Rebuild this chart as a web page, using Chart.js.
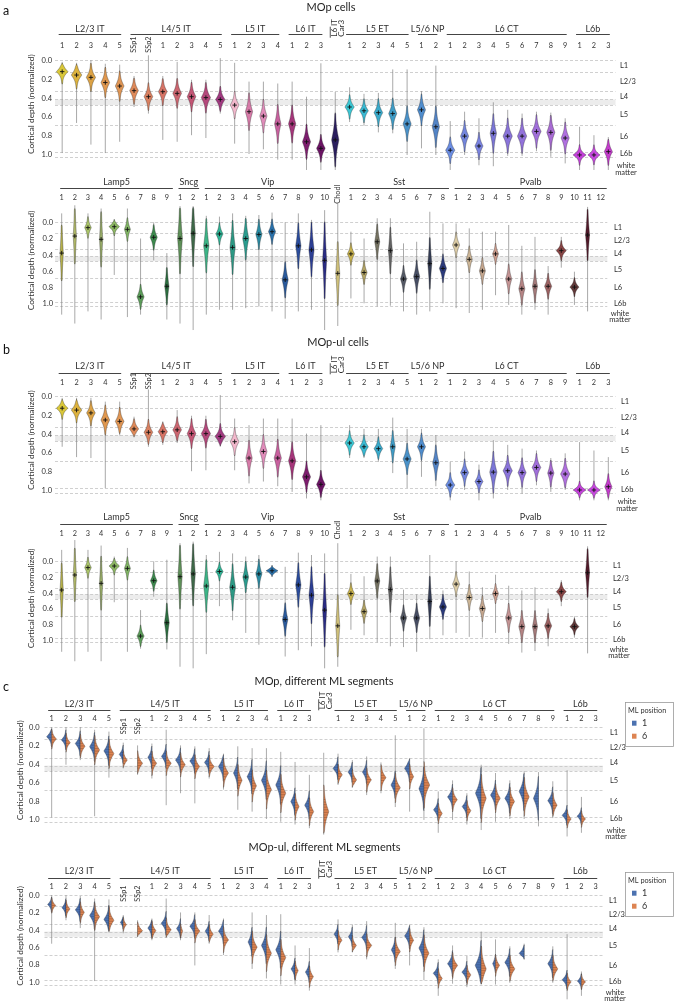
<!DOCTYPE html>
<html><head><meta charset="utf-8">
<script src="https://cdn.jsdelivr.net/npm/chart.js@4/dist/chart.umd.min.js"></script>
<style>
html,body{margin:0;padding:0;background:#fff;}
#wrap{position:relative;width:674px;height:1008px;overflow:hidden;background:#fff;}
#wrap canvas{position:absolute;left:0;top:0;}
</style>
</head><body><div id="wrap"></div>
<script>
// ---------------- categories ----------------
const excGroups = ['L2/3 IT','L4/5 IT','L5 IT','L6 IT','L6 IT\nCar3','L5 ET','L5/6 NP','L6 CT','L6b'];
const excGroupSizes = [5,7,4,3,1,5,2,9,3];
const excTicks = ['1','2','3','4','5','SSp1','SSp2','1','2','3','4','5','1','2','3','4','1','2','3','','1','2','3','4','5','1','2','1','2','3','4','5','6','7','8','9','1','2','3'];
const inhGroups = ['Lamp5','Sncg','Vip','','Sst','Pvalb'];
const inhGroupSizes = [9,2,10,1,8,12];
const inhTicks = ['1','2','3','4','5','6','7','8','9','1','2','1','2','3','4','5','6','7','8','9','10','Chodl','1','2','3','4','5','6','7','8','1','2','3','4','5','6','7','8','9','10','11','12'];

// ---------------- axis / layers ----------------
const yTickValues = [0,0.2,0.4,0.6,0.8,1.0];
const layerEdges = [0,0.13,0.335,0.42,0.48,0.69,0.98,1.03];
const l4Band = [0.42,0.48];
const layerNames = ['L1','L2/3','L4','L5','L6','L6b'];
const layerLabelPos = [0.06,0.225,0.39,0.585,0.81,1.0];
const mlPositions = ['1','6'];

// ---------------- panel a : MOp cells, excitatory ----------------
const aExcMed = [.124,.16,.185,.24,.277,.326,.39,.337,.355,.39,.40,.42,.48,.55,.596,.68,.68,.87,.94,.85,.50,.54,.56,.57,.68,.53,.71,.96,.81,.915,.78,.81,.81,.76,.77,.83,1.01,1.01,.975];
const aExcLo  = [.02,.03,0,.04,.05,.17,-.05,.17,.02,.21,.21,-.02,.03,.23,.23,.25,.23,.39,.035,.34,.29,.36,.35,.10,.10,.33,.06,.65,.55,.62,.45,.53,.57,.55,.56,.62,.71,.80,.82];
const aExcHi  = [.99,.67,.90,.99,.87,.50,.57,.85,.87,.80,.83,.57,.89,1.0,.95,1.06,1.06,1.17,1.17,1.17,.66,.70,.77,.78,1.01,.94,1.01,1.17,1.01,1.12,1.13,1.02,1.02,.97,1.03,1.10,1.17,1.17,1.17];
const aExcSpread = [.045,.055,.06,.065,.065,.06,.06,.06,.065,.065,.065,.055,.06,.09,.08,.1,.09,.08,.06,.13,.05,.05,.06,.07,.08,.07,.1,.055,.07,.06,.1,.075,.075,.07,.08,.07,.035,.035,.06];
const aExcWidth  = [.40,.36,.32,.30,.30,.30,.30,.30,.30,.30,.32,.32,.30,.25,.25,.22,.25,.28,.30,.25,.32,.30,.30,.28,.28,.28,.25,.32,.28,.28,.22,.32,.32,.32,.28,.28,.45,.42,.28];

// ---------------- panel a : MOp cells, inhibitory ----------------
const aInhMed = [.38,.17,.066,.21,.054,.087,.92,.185,.79,.20,.136,.29,.144,.31,.20,.15,.116,.71,.29,.34,.47,.63,.39,.62,.24,.35,.70,.67,.51,.57,.28,.457,.60,.39,.70,.82,.79,.79,.35,.80,.157,null];
const aInhLo  = [-.11,-.21,-.11,-.17,-.04,-.17,.20,0,.38,-.20,-.20,-.08,-.07,-.11,-.08,-.09,-.12,0,-.11,-.03,-.15,-.23,.116,.20,-.05,-.05,.26,.24,-.13,.014,.014,.075,.116,.116,.033,.29,.18,.54,.18,.61,-.19,null];
const aInhHi  = [1.14,1.25,1.10,1.20,.65,1.17,1.14,.47,1.20,1.25,1.33,1.14,1.08,1.08,1.06,1.04,1.10,1.19,1.10,1.08,1.33,1.28,.94,1.0,1.04,1.03,1.10,1.14,1.10,1.0,1.06,1.12,1.08,.90,1.02,1.14,1.08,1.14,.56,1.02,1.10,null];
const aInhSpread = [.25,.25,.06,.25,.04,.07,.07,.07,.14,.25,.25,.18,.06,.18,.13,.09,.07,.11,.15,.18,.3,.25,.06,.07,.12,.18,.08,.1,.2,.08,.07,.08,.08,.06,.09,.1,.11,.07,.045,.045,.2,null];
const aInhWidth  = [.12,.12,.25,.12,.40,.23,.27,.27,.16,.18,.16,.2,.27,.2,.23,.23,.27,.23,.2,.2,.15,.15,.27,.23,.19,.15,.23,.23,.15,.27,.27,.23,.23,.23,.23,.23,.19,.27,.38,.34,.15,null];

// ---------------- panel b : MOp-ul cells, excitatory ----------------
const bExcMed = [.13,.15,.18,.255,.27,.35,.386,.38,.36,.40,.40,.43,.486,.66,.59,.66,.69,.86,.94,null,.50,.54,.56,.54,.67,.54,.71,.947,.815,.91,.81,.795,.815,.76,.82,.83,1.0,1.0,.965];
const bExcLo  = [.02,.02,.02,.06,.06,.22,-.07,.27,.15,.21,.21,-.01,.24,.31,.24,.24,.24,.40,.31,null,.31,.35,.35,.23,.35,.35,.415,.70,.59,.73,.47,.52,.56,.58,.66,.61,.49,.58,.65];
const bExcHi  = [.54,.65,.66,.98,.42,.44,.54,.52,.50,.80,.79,.54,.79,.93,.91,.96,1.02,1.09,1.11,null,.66,.66,.70,.82,.98,.86,.96,1.11,1.0,1.11,1.09,1.0,1.04,.95,1.02,1.0,1.11,1.11,1.11];
const bExcSpread = [.04,.05,.055,.065,.06,.045,.055,.05,.055,.065,.06,.05,.06,.09,.08,.09,.09,.07,.06,null,.05,.05,.05,.09,.07,.06,.09,.05,.06,.05,.1,.065,.065,.06,.07,.065,.03,.03,.06];
const bExcWidth  = [.40,.36,.30,.30,.30,.32,.30,.32,.30,.30,.32,.36,.30,.22,.25,.25,.25,.28,.30,null,.32,.30,.30,.18,.28,.28,.22,.32,.28,.28,.25,.32,.28,.30,.22,.32,.45,.45,.25];

// ---------------- panel b : MOp-ul cells, inhibitory ----------------
const bInhMed = [.365,.174,.08,.28,.06,.09,.95,.246,.78,.195,.16,.314,.13,.33,.20,.16,.12,.74,.30,.43,.62,.82,.41,.64,.25,.36,.72,.72,.51,.58,.29,.46,.60,.41,.72,.83,.83,.82,.386,.83,.145,null];
const bInhLo  = [-.145,-.27,-.145,-.2,-.06,-.17,.62,0,-.02,-.23,-.25,-.08,-.12,-.1,-.06,-.08,.05,.07,-.11,-.08,-.1,-.23,.16,.19,-.06,-.06,.36,.42,-.08,.37,0,.13,.33,.17,.31,.37,.33,.6,.24,.70,-.19,null];
const bInhHi  = [1.15,1.27,1.15,1.27,.52,1.15,1.11,.45,1.12,1.34,1.36,1.18,.57,.75,.91,1.06,.20,1.21,1.13,1.08,1.36,1.34,.87,.94,1.03,1.08,1.09,1.15,.99,.94,.91,.96,.97,.91,1.05,1.16,1.14,1.08,.57,.97,1.17,null];
const bInhSpread = [.25,.25,.06,.25,.04,.07,.06,.06,.14,.25,.25,.18,.05,.15,.1,.09,.03,.11,.15,.2,.3,.25,.06,.07,.12,.18,.08,.09,.2,.07,.07,.08,.08,.06,.09,.1,.11,.07,.045,.04,.2,null];
const bInhWidth  = [.12,.12,.25,.12,.40,.23,.27,.25,.18,.16,.16,.2,.28,.22,.22,.23,.45,.2,.2,.19,.15,.15,.27,.23,.19,.15,.23,.23,.15,.27,.27,.23,.23,.23,.23,.23,.19,.27,.38,.34,.15,null];

// ---------------- panel c : MOp, ML position 1 vs 6 ----------------
const cMOpBlue   = [.105,.14,.18,.214,.26,.297,null,.33,.32,.36,.37,.385,.43,.50,.54,.58,.63,.81,.85,null,.45,.49,.49,null,.63,.45,.67,.90,.76,.865,.72,.74,.775,.70,.775,.80,.96,.97,null];
const cMOpOrange = [.13,.17,.21,.25,.29,.36,.395,.395,.395,.41,.43,.43,.50,.58,.64,.68,.72,.865,.92,.92,.52,.575,.575,.55,.66,.54,.63,.94,.79,.91,.775,.775,.81,.76,null,.85,1.0,1.0,null];
const cMOpLo     = [0,0,0,.03,.05,.17,.2,.18,.03,.2,.21,.23,.29,.21,.23,.23,.27,.38,.52,.28,.29,.36,.32,.385,.09,.34,.014,.70,.58,.72,.41,.5,.58,.48,.49,.59,.47,.76,null];
const cMOpHi     = [.985,.41,.36,.97,.55,.45,.52,.56,.85,.72,.83,.56,.68,.90,.92,1.0,1.03,1.06,1.1,1.17,.63,.66,.74,.72,.87,.92,1.01,1.15,1.01,1.06,1.12,1.03,1.0,1.0,1.08,.99,1.19,1.15,null];
const cMOpSpread = [.04,.04,.05,.06,.06,.04,.05,.05,.05,.05,.05,.045,.06,.07,.07,.08,.08,.06,.06,.11,.045,.045,.05,.055,.06,.055,.09,.045,.05,.045,.1,.06,.06,.08,.09,.055,.04,.035,null];
const cMOpWBlue  = [.35,.32,.35,.35,.35,.28,0,.28,.33,.35,.35,.33,.35,.30,.35,.35,.35,.30,.33,0,.35,.30,.30,0,.30,.35,.35,.33,.35,.33,.40,.35,.35,.35,.35,.35,.35,.30,0];
const cMOpWOrange= [.33,.30,.33,.35,.35,.28,.35,.33,.35,.33,.33,.35,.35,.30,.30,.35,.35,.28,.30,.35,.30,.30,.33,.35,.35,.28,.40,.28,.33,.28,.35,.33,.33,.35,0,.30,.28,.28,0];

// ---------------- panel c : MOp-ul, ML position 1 vs 6 ----------------
const cULBlue    = [.108,.144,.17,.235,.28,.315,null,.38,.325,.386,.36,.415,.415,null,.54,.58,.63,.85,.887,null,.45,.48,.488,null,.63,.47,.61,.90,.79,.887,.81,.79,.775,.67,null,.79,.975,.99,null];
const cULOrange  = [.12,.16,.20,.25,.29,.34,.41,.41,.40,.415,.415,.45,.516,null,.60,.67,.72,.87,.94,null,.52,.58,.58,null,.65,.52,.67,.96,.81,.92,.85,.81,.85,null,null,.85,1.0,1.0,null];
const cULLo      = [0,0,.01,.04,.05,.23,.29,.27,.04,.2,.2,.23,.27,null,.2,.23,.22,.58,.61,null,.28,.34,.30,null,.32,.34,.37,.74,.58,.70,.42,.51,.59,.56,null,.59,.45,.88,null];
const cULHi      = [.56,.29,.38,.99,.43,.44,.48,.52,.49,.52,.81,.56,.69,null,.85,.96,1.03,1.03,1.1,null,.66,.66,.74,null,.85,.81,.98,1.16,1.02,1.06,1.03,1.03,1.01,.74,null,1.01,1.2,1.16,null];
const cULSpread  = [.035,.04,.05,.06,.06,.035,.04,.045,.05,.045,.05,.045,.055,null,.07,.08,.08,.05,.05,null,.045,.045,.05,null,.06,.055,.08,.045,.055,.045,.1,.05,.06,.04,null,.06,.04,.035,null];
const cULWBlue   = [.28,.28,.35,.35,.35,.2,0,.28,.35,.28,.35,.28,.35,0,.28,.35,.35,.28,.28,0,.28,.28,.35,0,.28,.35,.35,.35,.35,.35,.42,.2,.35,.35,0,.35,.35,.28,0];
const cULWOrange = [.28,.28,.28,.35,.35,.22,.35,.28,.35,.15,.35,.28,.35,0,.35,.35,.35,.22,.28,0,.28,.28,.35,0,.35,.28,.35,.28,.35,.28,.35,.28,.35,0,0,.35,.28,.28,0];

// ---------------- colours (style) ----------------
const excColors = ['#d9c739','#dcb23e','#dca245','#e0984f','#e09655','#df8a5a','#d98060','#d77466','#cc6670','#c25574','#b4487b','#a03a80','#f2b8cc','#d77aa8','#e08cba','#c8609e','#a5357a','#7d1d6e','#6b1464','#2b1e5e','#3cc7d4','#3ab9d2','#3aaacb','#3f9cc6','#4a92c9','#4f8ccc','#5384c6','#6b8de2','#7385dc','#7b84e2','#7b76d6','#8a74da','#9272da','#a06fd9','#a86bd3','#b070df','#c341d9','#c84ae0','#c43ccc'];
const inhColors = ['#b5b04a','#b0b868','#aac468','#98ac68','#8db863','#80b464','#5c9c5a','#3d8a4e','#2c6e40','#5e9058','#3e6848','#3cb486','#2fb496','#2c9884','#2a9c8e','#2a8ca4','#2a72ac','#2a5a9c','#2a4c9c','#2c3e94','#2a2c84','#cfc07a','#c9b34e','#b3a466','#767362','#636363','#555a66','#474e64','#343c54','#2c3b7c','#dccca6','#ccb596','#c4a68e','#cc9c8c','#c49494','#b48484','#a47a7a','#9c6262','#864444','#623a3a','#521a2a','#444'];
const BLUE = '#4c72b0', ORANGE = '#dd8452';
const FONT = 'Lato, "Open Sans", "DejaVu Sans", sans-serif';
const fnt = px => px + 'px ' + FONT;

// ---------------- row geometry (layout) ----------------
const rows = [
  {id:'a1', kind:'exc', L:55, R:615.5, y0:60, k:94, min:-0.3, max:1.3, groupY:29.3, lineY:34.3, numY:45.7, rotOff:7, tickRight:52, titleX:31.7, layerX:620,
   med:aExcMed, lo:aExcLo, hi:aExcHi, sp:aExcSpread, wid:aExcWidth, title:'MOp cells', titleCX:331, titleY:7, letter:'a', letterY:11},
  {id:'a2', kind:'inh', L:55.1, R:607.3, y0:222.3, k:81, min:-0.3, max:1.4, groupY:181.7, lineY:188.3, numY:197.7, rotOff:6, tickRight:53, titleX:31.7, layerX:614,
   med:aInhMed, lo:aInhLo, hi:aInhHi, sp:aInhSpread, wid:aInhWidth},
  {id:'b1', kind:'exc', L:55, R:615.5, y0:396, k:94, min:-0.3, max:1.3, groupY:366, lineY:372.7, numY:382.3, rotOff:7, tickRight:52, titleX:31.7, layerX:621,
   med:bExcMed, lo:bExcLo, hi:bExcHi, sp:bExcSpread, wid:bExcWidth, title:'MOp-ul cells', titleCX:338, titleY:342.5, letter:'b', letterY:350},
  {id:'b2', kind:'inh', L:55.1, R:607.3, y0:561.3, k:78.7, min:-0.3, max:1.4, groupY:517.3, lineY:524.3, numY:533.3, rotOff:6, tickRight:53, titleX:31.7, layerX:613,
   med:bInhMed, lo:bInhLo, hi:bInhHi, sp:bInhSpread, wid:bInhWidth},
  {id:'c1', kind:'split', L:44.5, R:602.9, y0:727, k:92, min:-0.3, max:1.3, groupY:704, lineY:710, numY:718.3, rotOff:16, tickRight:39.5, titleX:20.7, layerX:610,
   blue:cMOpBlue, orange:cMOpOrange, lo:cMOpLo, hi:cMOpHi, sp:cMOpSpread, wb:cMOpWBlue, wo:cMOpWOrange, title:'MOp, different ML segments', titleCX:324, titleY:681, letter:'c', letterY:687, legendTop:701.7},
  {id:'c2', kind:'split', L:44.5, R:602.9, y0:896.7, k:92.3, min:-0.3, max:1.3, groupY:871, lineY:877.7, numY:886.7, rotOff:15, tickRight:39.5, titleX:20.7, layerX:609,
   blue:cULBlue, orange:cULOrange, lo:cULLo, hi:cULHi, sp:cULSpread, wb:cULWBlue, wo:cULWOrange, title:'MOp-ul, different ML segments', titleCX:324.5, titleY:847.5, legendTop:871.7}
];

function buildLabels(groups, sizes, ticks) {
  const out = []; let i = 0;
  groups.forEach((g, gi) => { for (let j = 0; j < sizes[gi]; j++) { out.push((g.replace('\n',' ') + ' ' + ticks[i]).trim() + '#' + i); i++; } });
  return out;
}

function shapeW(v, W, med, lo, hi, sp) {
  const d = Math.abs(v - med) / sp;
  let w = W * (0.9 * Math.exp(-Math.pow(d, 1.25)) + 0.1 * Math.exp(-d / 4));
  const edge = Math.min(1, (v - lo) / 0.04, (hi - v) / 0.04);
  return w * Math.max(0, edge);
}

// body of the violin: only where it is wider than the tail line
function violinPath(ctx, ys, cx, W, med, lo, hi, sp, side) {
  const N = 160, pts = [];
  for (let i = 0; i <= N; i++) {
    const v = lo + (hi - lo) * i / N;
    const w = shapeW(v, W, med, lo, hi, sp);
    if (w >= 0.45) pts.push([ys.getPixelForValue(v), w]);
  }
  if (pts.length < 2) return false;
  ctx.beginPath();
  ctx.moveTo(cx, pts[0][0] - 1.2);
  pts.forEach(p => ctx.lineTo(cx - (side > 0 ? 0 : p[1]), p[0]));
  ctx.lineTo(cx, pts[pts.length - 1][0] + 1.2);
  for (let i = pts.length - 1; i >= 0; i--) ctx.lineTo(cx + (side < 0 ? 0 : pts[i][1]), pts[i][0]);
  ctx.closePath();
  return true;
}

function rowPlugin(row) {
  const isExc = row.kind !== 'inh';
  const groups = isExc ? excGroups : inhGroups;
  const sizes = isExc ? excGroupSizes : inhGroupSizes;
  const ticks = isExc ? excTicks : inhTicks;
  const colors = row.kind === 'inh' ? inhColors : excColors;
  return {
    id: 'violins_' + row.id,
    beforeDatasetsDraw(chart) {
      const ctx = chart.ctx, xs = chart.scales.x, ys = chart.scales.y;
      const left = chart.chartArea.left, right = chart.chartArea.right;
      const n = ticks.length, slot = (right - left) / n;
      ctx.save();
      const b0 = ys.getPixelForValue(l4Band[0]), b1 = ys.getPixelForValue(l4Band[1]);
      ctx.fillStyle = '#ececec';
      ctx.fillRect(left, b0, right - left, b1 - b0);
      ctx.strokeStyle = '#c4c4c4'; ctx.lineWidth = 0.8; ctx.setLineDash([3, 2]);
      layerEdges.forEach(v => {
        const y = Math.round(ys.getPixelForValue(v)) + 0.5;
        ctx.beginPath(); ctx.moveTo(left, y); ctx.lineTo(right, y); ctx.stroke();
      });
      ctx.setLineDash([]);
      for (let i = 0; i < n; i++) {
        const lo = row.lo[i], hi = row.hi[i];
        if (lo == null) continue;
        const cx = xs.getPixelForValue(i);
        const sp = row.sp[i];
        if (row.kind === 'split') {
          const halves = [[row.blue[i], row.wb[i], -1, BLUE, 'rgba(25,35,70,0.4)'], [row.orange[i], row.wo[i], 1, ORANGE, 'rgba(70,35,20,0.5)']];
          if (halves.every(h => h[0] == null)) continue;
          ctx.strokeStyle = 'rgba(140,140,140,0.9)'; ctx.lineWidth = 0.8;
          ctx.beginPath(); ctx.moveTo(cx, ys.getPixelForValue(lo)); ctx.lineTo(cx, ys.getPixelForValue(hi)); ctx.stroke();
          halves.forEach(h => {
            const m = h[0]; if (m == null || !h[1]) return;
            const W = h[1] * slot;
            if (!violinPath(ctx, ys, cx, W, m, lo, hi, sp, h[2])) return;
            ctx.fillStyle = h[3]; ctx.fill();
            ctx.strokeStyle = h[4]; ctx.lineWidth = 0.5;
            for (let v = m - 4 * sp; v <= m + 4 * sp; v += 0.028) {
              if (v < lo || v > hi) continue;
              const w = shapeW(v, W, m, lo, hi, sp);
              if (w < 0.3 * W) continue;
              const y = ys.getPixelForValue(v);
              ctx.beginPath(); ctx.moveTo(cx, y); ctx.lineTo(cx + h[2] * w, y); ctx.stroke();
            }
            violinPath(ctx, ys, cx, W, m, lo, hi, sp, h[2]);
            ctx.strokeStyle = 'rgba(50,50,50,0.55)'; ctx.lineWidth = 0.6; ctx.stroke();
          });
        } else {
          const m = row.med[i]; if (m == null) continue;
          const W = row.wid[i] * slot;
          ctx.strokeStyle = 'rgba(135,135,135,0.9)'; ctx.lineWidth = 0.8;
          ctx.beginPath(); ctx.moveTo(cx, ys.getPixelForValue(lo)); ctx.lineTo(cx, ys.getPixelForValue(hi)); ctx.stroke();
          if (!violinPath(ctx, ys, cx, W, m, lo, hi, sp, 0)) continue;
          ctx.fillStyle = colors[i]; ctx.fill();
          ctx.strokeStyle = 'rgba(40,40,40,0.6)'; ctx.lineWidth = 0.6; ctx.stroke();
        }
      }
      ctx.restore();
    },
    afterDraw(chart) {
      const ctx = chart.ctx, xs = chart.scales.x, ys = chart.scales.y;
      ctx.save();
      ctx.fillStyle = '#2e2e2e';
      ctx.font = fnt(7.5); ctx.textAlign = 'right'; ctx.textBaseline = 'middle';
      yTickValues.forEach(v => ctx.fillText(v.toFixed(1), row.tickRight, ys.getPixelForValue(v) + 0.5));
      const ttl = 'Cortical depth (normalized)';
      ctx.font = fnt(9);
      const fs = 9 * 100 / ctx.measureText(ttl).width;
      ctx.save();
      ctx.translate(row.titleX, ys.getPixelForValue(0.47));
      ctx.rotate(-Math.PI / 2);
      ctx.font = fnt(fs); ctx.textAlign = 'center'; ctx.textBaseline = 'middle';
      ctx.fillText(ttl, 0, 0);
      ctx.restore();
      ctx.font = fnt(7.5); ctx.textAlign = 'left'; ctx.textBaseline = 'middle';
      layerNames.forEach((t, j) => ctx.fillText(t, row.layerX, ys.getPixelForValue(layerLabelPos[j])));
      ctx.textAlign = 'center';
      ctx.fillText('white', row.layerX + 6, ys.getPixelForValue(1.125));
      ctx.fillText('matter', row.layerX + 6, ys.getPixelForValue(1.195));
      let idx = 0;
      const off = row.kind === 'inh' ? [-1.5, 6] : [-3.5, 1.5];
      groups.forEach((g, gi) => {
        const n = sizes[gi];
        const x1 = xs.getPixelForValue(idx), x2 = xs.getPixelForValue(idx + n - 1);
        if (g) {
          if (n === 1) {
            const lines = g.split('\n');
            ctx.strokeStyle = '#444'; ctx.lineWidth = 0.9;
            ctx.beginPath(); ctx.moveTo(x1 - 5, row.numY - 19); ctx.lineTo(x1 - 5, row.numY - 8); ctx.stroke();
            ctx.save();
            ctx.translate(x1, row.numY - 9);
            ctx.rotate(-Math.PI / 2);
            ctx.font = fnt(8); ctx.textAlign = 'left'; ctx.textBaseline = 'middle'; ctx.fillStyle = '#2e2e2e';
            lines.forEach((t, j) => ctx.fillText(t, 0, -1 + j * 7));
            ctx.restore();
          } else {
            const a = x1 + off[0], b = x2 + off[1];
            ctx.strokeStyle = '#444'; ctx.lineWidth = 1;
            ctx.beginPath(); ctx.moveTo(a, Math.round(row.lineY) + 0.5); ctx.lineTo(b, Math.round(row.lineY) + 0.5); ctx.stroke();
            ctx.font = fnt(9); ctx.textAlign = 'center'; ctx.textBaseline = 'middle'; ctx.fillStyle = '#2e2e2e';
            ctx.fillText(g, (a + b) / 2, row.groupY);
          }
        }
        idx += n;
      });
      ticks.forEach((t, i) => {
        if (!t) return;
        const x = xs.getPixelForValue(i);
        ctx.fillStyle = '#333';
        if (/^\d+$/.test(t)) {
          ctx.font = fnt(7.3); ctx.textAlign = 'center'; ctx.textBaseline = 'middle';
          ctx.fillText(t, x, row.numY);
        } else {
          ctx.save();
          ctx.translate(x, row.numY + row.rotOff);
          ctx.rotate(-Math.PI / 2);
          ctx.font = fnt(7.3); ctx.textAlign = 'left'; ctx.textBaseline = 'middle';
          ctx.fillText(t, 0, 0);
          ctx.restore();
        }
      });
      if (row.title) {
        ctx.fillStyle = '#1e1e1e'; ctx.font = fnt(11); ctx.textAlign = 'center'; ctx.textBaseline = 'middle';
        ctx.fillText(row.title, row.titleCX, row.titleY);
      }
      if (row.letter) {
        ctx.fillStyle = '#111'; ctx.font = fnt(12.5); ctx.textAlign = 'left'; ctx.textBaseline = 'middle';
        ctx.fillText(row.letter, 3, row.letterY);
      }
      if (row.legendTop) {
        const bx = 625, by = row.legendTop, bw = 48, bh = 44;
        ctx.strokeStyle = '#9a9a9a'; ctx.lineWidth = 0.8;
        ctx.strokeRect(bx + 0.5, Math.round(by) + 0.5, bw, bh);
        ctx.fillStyle = '#333'; ctx.font = fnt(7.3); ctx.textAlign = 'left'; ctx.textBaseline = 'middle';
        ctx.fillText('ML position', bx + 3, by + 8.5);
        [BLUE, ORANGE].forEach((c, j) => {
          ctx.fillStyle = c; ctx.fillRect(bx + 7, by + 19 + j * 13, 4.5, 5);
          ctx.fillStyle = '#333'; ctx.font = fnt(9);
          ctx.fillText(mlPositions[j], bx + 17, by + 21.5 + j * 13);
        });
      }
      ctx.restore();
    }
  };
}

function makeRow(row) {
  const canvas = document.createElement('canvas');
  canvas.width = 674; canvas.height = 1008;
  canvas.style.width = '674px'; canvas.style.height = '1008px';
  document.getElementById('wrap').appendChild(canvas);
  const isExc = row.kind !== 'inh';
  const labels = isExc ? buildLabels(excGroups, excGroupSizes, excTicks) : buildLabels(inhGroups, inhGroupSizes, inhTicks);
  let datasets;
  if (row.kind === 'split') {
    datasets = [
      {label: 'ML 1', data: row.blue, showLine: false, pointRadius: 0, borderColor: BLUE, backgroundColor: BLUE},
      {label: 'ML 6', data: row.orange, showLine: false, pointRadius: 0, borderColor: ORANGE, backgroundColor: ORANGE}
    ];
  } else {
    datasets = [{label: 'median', data: row.med, showLine: false, pointStyle: 'cross', pointRadius: 2.2, borderWidth: 0.9, borderColor: '#111', backgroundColor: '#111'}];
  }
  const top = row.y0 + row.k * row.min, bottom = row.y0 + row.k * row.max;
  new Chart(canvas, {
    type: 'line',
    data: {labels, datasets},
    options: {
      responsive: false, animation: false, devicePixelRatio: 1,
      clip: false,
      layout: {padding: {left: row.L, right: 674 - row.R, top: top, bottom: 1008 - bottom}},
      scales: {
        x: {type: 'category', offset: true, display: false},
        y: {type: 'linear', reverse: true, min: row.min, max: row.max, display: false}
      },
      plugins: {legend: {display: false}, tooltip: {enabled: false}, title: {display: false}},
      events: []
    },
    plugins: [rowPlugin(row)]
  });
}
rows.forEach(makeRow);
</script>
</body></html>
